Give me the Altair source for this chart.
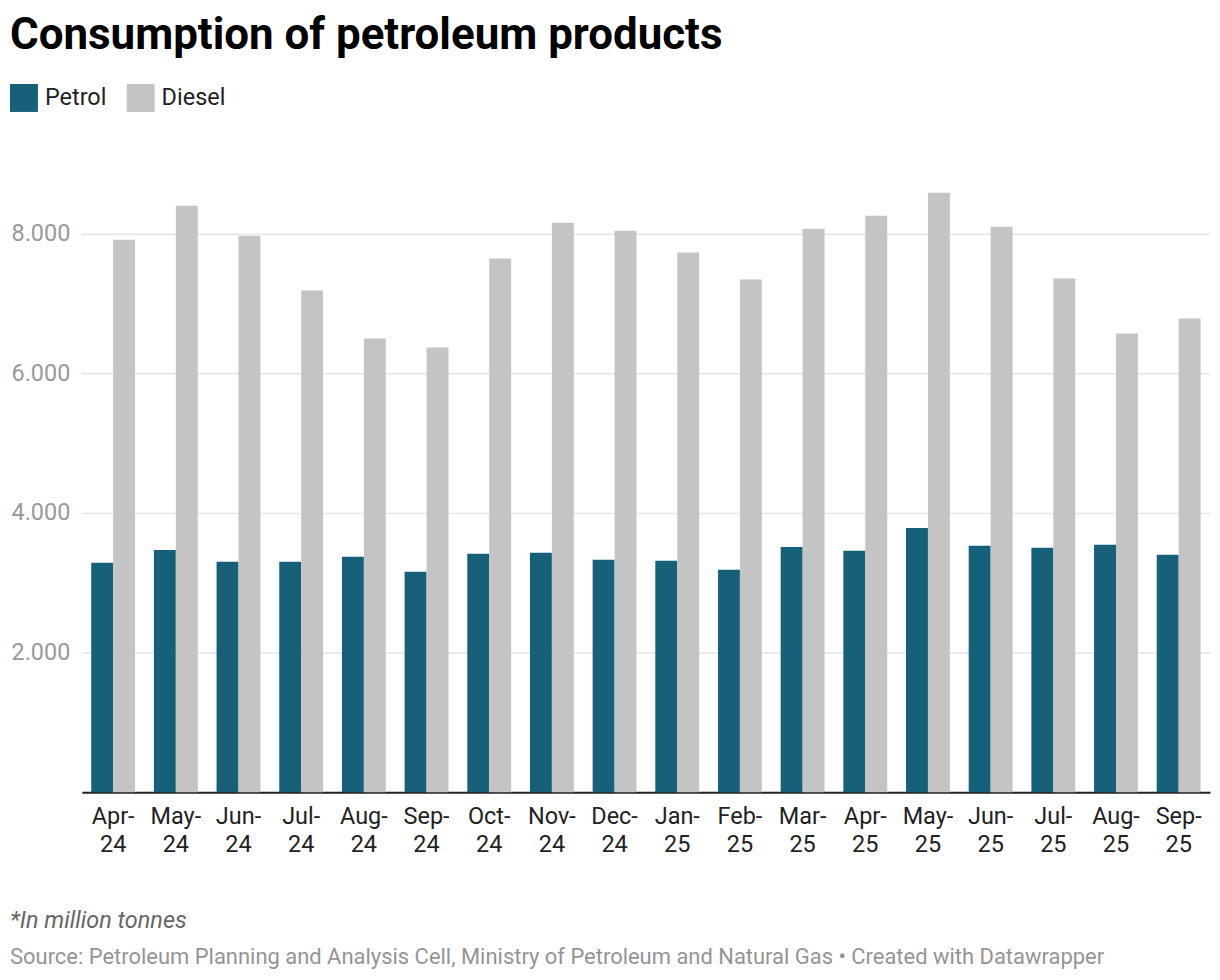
import altair as alt
import pandas as pd

months = ["Apr-24", "May-24", "Jun-24", "Jul-24", "Aug-24", "Sep-24", "Oct-24", "Nov-24", "Dec-24",
          "Jan-25", "Feb-25", "Mar-25", "Apr-25", "May-25", "Jun-25", "Jul-25", "Aug-25", "Sep-25"]
petrol = [3286, 3471, 3300, 3300, 3371, 3157, 3414, 3429, 3329,
          3314, 3186, 3514, 3457, 3786, 3529, 3500, 3543, 3400]
diesel = [7914, 8400, 7971, 7186, 6500, 6371, 7643, 8157, 8043,
          7729, 7343, 8071, 8257, 8586, 8100, 7357, 6571, 6786]
series = ["Petrol", "Diesel"]
colors = ["#16607a", "#c4c4c4"]
y_ticks = [2000, 4000, 6000, 8000]

title_text = "Consumption of petroleum products"
note_text = "*In million tonnes"
source_text = "Source: Petroleum Planning and Analysis Cell, Ministry of Petroleum and Natural Gas \u2022 Created with Datawrapper"

rows = []
for m, p, d in zip(months, petrol, diesel):
    rows.append({"month": m, "series": "Petrol", "value": p})
    rows.append({"month": m, "series": "Diesel", "value": d})
df = pd.DataFrame(rows)

W, H = 1131, 630
FONT = "Roboto"

bars = alt.Chart(df).mark_bar().encode(
    x=alt.X("month:N", sort=months, title=None,
            scale=alt.Scale(paddingInner=0.3, paddingOuter=0.15),
            axis=alt.Axis(labelAngle=0, labelFontSize=23.5, labelColor="#222222", labelFont=FONT,
                          labelExpr="[split(datum.label, '-')[0] + '-', split(datum.label, '-')[1]]",
                          labelLineHeight=28, labelPadding=12, ticks=False,
                          domainColor="#222222", domainWidth=2, grid=False)),
    xOffset=alt.XOffset("series:N", sort=series, scale=alt.Scale(paddingInner=0, paddingOuter=0)),
    y=alt.Y("value:Q", title=None, scale=alt.Scale(domain=[0, 9000], nice=False),
            axis=alt.Axis(values=y_ticks, labelExpr="replace(format(datum.value, ','), ',', '.')",
                          labelFontSize=23.5, labelColor="#999999", labelFont=FONT, labelPadding=12,
                          ticks=False, domain=False, gridColor="#e5e5e5", gridWidth=1.5)),
    color=alt.Color("series:N", sort=series,
                    scale=alt.Scale(domain=series, range=colors),
                    legend=alt.Legend(title=None, orient="none", legendX=-72, legendY=-80,
                                      direction="horizontal", symbolType="square", symbolSize=784,
                                      symbolStrokeWidth=0, labelFontSize=23.5, labelFont=FONT,
                                      labelColor="#222222", columnPadding=20, labelOffset=7)),
)

note = alt.Chart(pd.DataFrame({"t": [note_text]})).mark_text(
    align="left", baseline="alphabetic", fontSize=23.5, fontStyle="italic", font=FONT, color="#666666"
).encode(text="t:N", x=alt.value(-72), y=alt.value(766))

source = alt.Chart(pd.DataFrame({"t": [source_text]})).mark_text(
    align="left", baseline="alphabetic", fontSize=22, font=FONT, color="#949494"
).encode(text="t:N", x=alt.value(-72), y=alt.value(802))

chart = alt.layer(bars, note, source).properties(
    width=W, height=H,
    padding={"left": 2, "top": 5, "right": 2, "bottom": 2},
    title=alt.TitleParams(title_text, anchor="start", frame="bounds", font=FONT, fontSize=44,
                          fontWeight="bold", color="#000000", offset=26),
).configure_view(stroke=None)

chart.save("out.html", embed_options={"renderer": "svg", "actions": False})
